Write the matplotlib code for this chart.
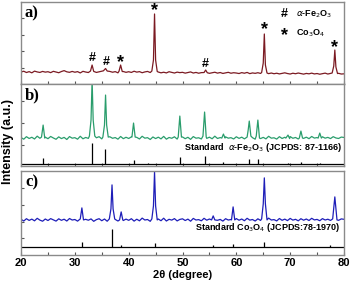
import numpy as np
import matplotlib.pyplot as plt
from matplotlib.ticker import MultipleLocator

plt.rcParams['font.family'] = ['Liberation Sans', 'DejaVu Sans']

# baseline grid 20..80 step 0.5
grid = np.arange(20, 80.01, 0.5)

a_base = [12.0, 12.8, 11.5, 12.4, 11.2, 12.9, 12.1, 11.6, 12.6, 11.9,
          12.3, 11.4, 12.7, 12.0, 11.3, 12.5, 13.4, 12.2, 11.7, 12.6,
          11.8, 12.4, 11.1, 12.7, 12.0, 11.5, 12.8, 12.3, 11.6, 12.2,
          12.9, 11.4, 12.1, 12.6, 11.8, 12.4, 11.2, 12.0, 12.5, 11.7,
          12.3, 11.6, 12.8, 11.9, 12.4, 11.3, 12.1, 12.6, 11.5, 11.9,
          11.4, 12.0, 11.2, 11.8, 11.1, 12.3, 11.6, 11.0, 11.9, 11.4,
          11.7, 10.9, 11.5, 12.1, 11.0, 11.6, 10.8, 11.4, 11.9, 11.2,
          10.7, 11.3, 11.8, 10.9, 11.5, 10.6, 11.2, 11.7, 10.8, 11.3,
          11.0, 10.5, 11.4, 10.8, 11.6, 10.4, 11.1, 10.7, 11.3, 10.6,
          10.2, 10.9, 10.4, 11.0, 10.3, 10.8, 10.1, 10.7, 11.2, 10.5,
          10.0, 10.8, 10.3, 11.0, 10.4, 9.9, 10.6, 10.2, 10.9, 10.1,
          10.5, 9.8, 10.4, 10.9, 10.0, 10.6, 9.9, 10.3, 10.7, 10.0,
          10.2]
b_base = [28.5, 26.9, 29.4, 27.6, 28.8, 27.1, 29.9, 27.8, 26.7, 28.9,
          27.4, 29.6, 28.1, 26.8, 29.2, 27.5, 28.7, 26.6, 29.5, 27.9,
          28.4, 26.9, 29.8, 27.3, 28.6, 27.7, 29.1, 26.8, 28.3, 29.4,
          27.2, 28.9, 26.7, 29.3, 27.8, 28.5, 26.9, 29.6, 27.4, 28.8,
          27.6, 29.2, 26.8, 28.7, 27.1, 29.8, 27.9, 28.4, 26.6, 29.1,
          27.5, 28.9, 27.2, 29.7, 26.9, 28.6, 27.8, 29.3, 27.0, 28.5,
          29.1, 27.4, 28.8, 26.7, 29.5, 27.9, 28.3, 27.1, 29.6, 27.7,
          28.9, 27.3, 29.9, 27.6, 28.5, 26.8, 29.2, 27.9, 28.4, 27.1,
          29.3, 27.7, 28.9, 27.2, 29.6, 27.8, 28.4, 26.9, 29.1, 27.5,
          28.7, 27.2, 29.8, 27.9, 28.3, 27.0, 29.4, 27.6, 28.8, 27.3,
          29.5, 27.8, 28.6, 27.1, 29.2, 27.7, 28.9, 27.4, 29.6, 28.0,
          28.5, 27.2, 29.3, 27.9, 28.7, 27.5, 29.4, 28.1, 27.6, 29.0,
          28.6]
c_base = [35.6, 33.9, 36.2, 34.5, 35.8, 34.1, 36.6, 34.8, 33.7, 35.9,
          34.4, 36.3, 35.1, 33.8, 36.1, 34.6, 35.7, 33.9, 36.4, 34.9,
          35.4, 33.8, 36.7, 34.3, 35.6, 34.7, 36.0, 33.6, 35.3, 36.2,
          34.2, 35.9, 33.7, 36.3, 34.8, 35.5, 33.9, 36.6, 34.4, 35.8,
          34.6, 36.2, 33.8, 35.7, 34.1, 36.8, 34.9, 35.4, 33.6, 36.1,
          34.5, 35.9, 34.2, 36.7, 33.9, 35.6, 34.8, 36.3, 34.0, 35.5,
          36.1, 34.4, 35.8, 33.7, 36.5, 34.9, 35.3, 34.1, 36.6, 34.7,
          35.9, 34.3, 36.9, 34.6, 35.5, 33.8, 36.2, 34.9, 35.4, 34.1,
          36.3, 34.7, 35.9, 34.2, 36.6, 34.8, 35.4, 33.9, 36.1, 34.5,
          35.7, 34.2, 36.8, 34.9, 35.3, 34.0, 36.4, 34.6, 35.8, 34.3,
          36.5, 34.8, 35.6, 34.1, 36.2, 34.7, 35.9, 34.4, 36.6, 35.0,
          35.5, 34.2, 36.3, 34.9, 35.7, 34.5, 36.4, 35.1, 34.6, 36.0,
          35.6]

a_peaks = [[(32.9, 13.0), (33.2, 19), (33.5, 12.6)],
           [(35.3, 13.2), (35.7, 15.5), (36.0, 13.0)],
           [(38.2, 12.8), (38.5, 19), (38.8, 12.5)],
           [(44.3, 13), (44.6, 24), (44.8, 70), (45.0, 24), (45.3, 12.5)],
           [(54.0, 11.5), (54.3, 14), (54.6, 11.3)],
           [(64.7, 11.5), (65.0, 21), (65.2, 50), (65.4, 19), (65.7, 11)],
           [(77.8, 11), (78.1, 18), (78.3, 34), (78.5, 17), (78.8, 10.5)]]
b_peaks = [[(23.8, 29), (24.1, 41), (24.4, 28)],
           [(32.7, 30), (33.0, 46), (33.2, 86), (33.4, 46), (33.7, 30)],
           [(35.2, 29), (35.5, 41), (35.7, 71), (35.9, 41), (36.2, 29)],
           [(40.6, 29), (40.9, 43), (41.2, 29)],
           [(49.2, 29), (49.5, 50), (49.8, 29)],
           [(53.8, 30), (54.1, 54), (54.4, 29)],
           [(57.3, 28), (57.6, 32), (57.9, 28)],
           [(62.0, 29), (62.2, 36), (62.4, 45), (62.7, 30)],
           [(63.7, 30), (64.0, 46), (64.3, 28)],
           [(69.2, 28), (69.6, 31), (69.9, 27.5)],
           [(71.7, 28), (72.0, 35), (72.3, 28)],
           [(75.2, 28), (75.5, 33), (75.8, 28)]]
c_peaks = [[(31.0, 36), (31.3, 47), (31.6, 35)],
           [(36.4, 36), (36.7, 46), (36.9, 70), (37.1, 46), (37.4, 36)],
           [(38.3, 35), (38.6, 43), (38.9, 35)],
           [(44.3, 36), (44.6, 49), (44.8, 83), (45.0, 49), (45.3, 35)],
           [(55.4, 35), (55.7, 39), (56.0, 35)],
           [(59.1, 35), (59.4, 48), (59.7, 35)],
           [(64.7, 36), (65.0, 51), (65.2, 77), (65.4, 51), (65.7, 35)],
           [(77.9, 36), (78.3, 58), (78.7, 35)]]

# standard reference lines (position, top), with baseline level
b_std = [(24.1, 8), (33.2, 23), (35.6, 17), (40.9, 6), (43.5, 3.5), (49.5, 9),
         (54.1, 10), (57.6, 4), (62.4, 7), (64.0, 7), (69.6, 3), (72.0, 4), (75.5, 3)]
b_std_base = 2
c_std = [(31.3, 13), (36.9, 26), (38.6, 10), (44.8, 12), (55.7, 9.5),
         (59.4, 11), (65.2, 13), (77.4, 10)]
c_std_base = 8


def merge(base, peaks):
    pts = []
    for x, y in zip(grid, base):
        if not any(p[0][0] <= x <= p[-1][0] for p in peaks):
            pts.append((x, y))
    for p in peaks:
        pts.extend(p)
    pts.sort()
    return [p[0] for p in pts], [p[1] for p in pts]


fig = plt.figure(figsize=(3.51, 2.82), dpi=100)
L, W = 0.06, 0.92
ax_a = fig.add_axes([L, 0.702, W, 0.291])
ax_b = fig.add_axes([L, 0.411, W, 0.291])
ax_c = fig.add_axes([L, 0.096, W, 0.298])

gray = '#8a8a8a'
for ax in (ax_a, ax_b, ax_c):
    ax.set_xlim(20, 80)
    for s in ax.spines.values():
        s.set_color(gray)
        s.set_linewidth(1.0)
    ax.xaxis.set_major_locator(MultipleLocator(10))
    ax.xaxis.set_minor_locator(MultipleLocator(5))
    ax.tick_params(which='both', direction='in', length=2.5, width=0.8,
                   color='#555555', labelsize=8, pad=2)
    ax.tick_params(axis='y', labelleft=False)

ax_a.set_ylim(0, 82)
ax_b.set_ylim(0, 82)
ax_c.set_ylim(0, 84)
ax_a.set_yticks([16, 33, 49, 66])
ax_b.set_yticks([21, 43, 65])
ax_c.set_yticks([17, 33, 50, 67])
ax_a.tick_params(axis='x', labelbottom=False)
ax_b.tick_params(axis='x', labelbottom=False)

x, y = merge(a_base, a_peaks)
ax_a.plot(x, y, color='#7b1a22', lw=0.9)
x, y = merge(b_base, b_peaks)
ax_b.plot(x, y, color='#2a9d6c', lw=0.9)
x, y = merge(c_base, c_peaks)
ax_c.plot(x, y, color='#1e1eb8', lw=0.9)

ax_b.axhline(b_std_base, color='black', lw=0.9)
ax_b.vlines([p[0] for p in b_std], b_std_base, [p[1] for p in b_std], color='black', lw=0.9)
ax_c.axhline(c_std_base, color='black', lw=0.9)
ax_c.vlines([p[0] for p in c_std], c_std_base, [p[1] for p in c_std], color='black', lw=0.9)

# phase markers in panel a
marks = [(33.2, 26, '#'), (35.8, 22, '#'), (38.5, 21, '*'),
         (44.8, 73, '*'), (54.3, 20, '#'), (65.2, 54, '*'), (78.3, 36, '*')]
for xx, yy, s in marks:
    ax_a.text(xx, yy, s, ha='center', va='center', fontweight='bold',
              fontsize=9 if s == '#' else 13)
ax_a.text(68.9, 70, '#', ha='center', va='center', fontweight='bold', fontsize=9)
ax_a.text(68.9, 48, '*', ha='center', va='center', fontweight='bold', fontsize=13)
ax_a.text(71.0, 70, r'$\alpha$-Fe$_2$O$_3$', ha='left', va='center', fontweight='bold', fontsize=6.5)
ax_a.text(71.0, 51, r'Co$_3$O$_4$', ha='left', va='center', fontweight='bold', fontsize=6.5)

for ax, lab in [(ax_a, 'a)'), (ax_b, 'b)'), (ax_c, 'c)')]:
    ax.text(0.012, 0.86, lab, transform=ax.transAxes, family='Liberation Serif',
            fontweight='bold', fontsize=12, ha='left', va='center')

ax_b.text(79.6, 19, r'Standard  $\alpha$-Fe$_2$O$_3$ (JCPDS: 87-1166)', ha='right',
          va='center', fontweight='bold', fontsize=6.5)
ax_c.text(79.3, 27, r'Standard Co$_3$O$_4$ (JCPDS:78-1970)', ha='right',
          va='center', fontweight='bold', fontsize=6.5)

for lbl in ax_c.get_xticklabels():
    lbl.set_fontweight('bold')
fig.text(0.52, 0.026, '2θ (degree)', ha='center', va='center',
         fontweight='bold', fontsize=8)
fig.text(0.024, 0.5, 'Intensity (a.u.)', rotation=90, ha='center', va='center',
         fontweight='bold', fontsize=9)

fig.savefig('out.png', dpi=100)
